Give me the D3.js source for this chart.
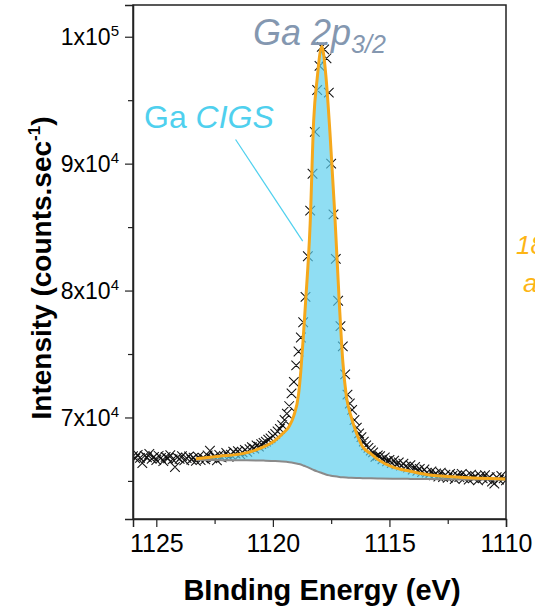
<!DOCTYPE html>
<html>
<head>
<meta charset="utf-8">
<script src="https://cdn.jsdelivr.net/npm/d3@7"></script>
<style>
  html, body { margin: 0; padding: 0; background: #fff; overflow: hidden; }
  svg { display: block; font-family: "Liberation Sans", Arial, sans-serif; }
</style>
</head>
<body>
<svg id="chart" width="535" height="607"></svg>
<script>
// ---------- data ----------
const energy = [
  1126.0,1125.9,1125.8,1125.7,1125.6,1125.5,1125.4,1125.3,1125.2,1125.1,
  1125.0,1124.9,1124.8,1124.7,1124.6,1124.5,1124.4,1124.3,1124.2,1124.1,
  1124.0,1123.9,1123.8,1123.7,1123.6,1123.5,1123.4,1123.3,1123.2,1123.1,
  1123.0,1122.9,1122.8,1122.7,1122.6,1122.5,1122.4,1122.3,1122.2,1122.1,
  1122.0,1121.9,1121.8,1121.7,1121.6,1121.5,1121.4,1121.3,1121.2,1121.1,
  1121.0,1120.9,1120.8,1120.7,1120.6,1120.5,1120.4,1120.3,1120.2,1120.1,
  1120.0,1119.9,1119.8,1119.7,1119.6,1119.5,1119.4,1119.3,1119.2,1119.1,
  1119.0,1118.9,1118.8,1118.7,1118.6,1118.5,1118.4,1118.3,1118.2,1118.1,
  1118.0,1117.9,1117.8,1117.7,1117.6,1117.5,1117.4,1117.3,1117.2,1117.1,
  1117.0,1116.9,1116.8,1116.7,1116.6,1116.5,1116.4,1116.3,1116.2,1116.1,
  1116.0,1115.9,1115.8,1115.7,1115.6,1115.5,1115.4,1115.3,1115.2,1115.1,
  1115.0,1114.9,1114.8,1114.7,1114.6,1114.5,1114.4,1114.3,1114.2,1114.1,
  1114.0,1113.9,1113.8,1113.7,1113.6,1113.5,1113.4,1113.3,1113.2,1113.1,
  1113.0,1112.9,1112.8,1112.7,1112.6,1112.5,1112.4,1112.3,1112.2,1112.1,
  1112.0,1111.9,1111.8,1111.7,1111.6,1111.5,1111.4,1111.3,1111.2,1111.1,
  1111.0,1110.9,1110.8,1110.7,1110.6,1110.5,1110.4,1110.3,1110.2,1110.1,
  1110.0
];
const intensity = [
  66950,66780,67050,66820,66400,66980,66860,67120,66740,66900,
  66650,66980,66820,66560,66900,66780,67020,66700,66100,66860,
  66740,66950,66620,66800,66930,66690,66840,66580,66900,66650,
  66820,66700,67000,67380,66780,66900,66620,67050,66850,66980,
  67200,66900,67060,67300,67150,67350,67100,67250,67450,67300,
  67500,67650,67550,67800,67700,67900,68000,68100,68250,68350,
  68550,68700,68900,69100,69400,69800,70300,70900,71900,72800,
  74100,75200,76300,77500,79500,82700,86300,89200,92500,95800,
  97700,99200,99000,98300,95600,90000,86000,82500,79200,77200,
  75600,73400,71800,71100,70600,69800,69200,68750,68450,68100,
  67800,67600,67400,67250,66900,67000,66950,66700,66850,66550,
  66650,66400,66600,66300,66450,66200,66350,66150,66050,66250,
  65900,66100,65800,65950,65700,65900,65650,65500,65750,65450,
  65600,65350,65650,65300,65500,65250,65550,65400,65150,65450,
  65300,65550,65200,65400,65100,65500,65250,65350,65050,65400,
  65200,65450,65150,65300,64950,64800,65300,65100,65400,65200,
  65050
];
const fitEnergy = [
  1123.3,1122.3,1121.3,1120.4,1119.9,1119.6,1119.3,1119.1,1118.9,1118.8,
  1118.7,1118.6,1118.4,1118.25,1118.1,1117.9,1117.73,1117.55,1117.35,1117.15,
  1117.0,1116.85,1116.65,1116.4,1116.15,1115.8,1115.5,1114.85,1114.1,1113.4,
  1112.0,1110.0
];
const fitEnvelope = [
  66740,66950,67150,67680,68200,68700,69300,70150,71800,73700,
  76200,79000,85300,93400,96700,99230,97000,92400,86200,79000,
  74400,71700,70100,68700,67700,67150,66700,66080,65760,65500,
  65290,65160
];
const fitBackground = [
  66650,66640,66625,66600,66570,66535,66480,66420,66340,66290,
  66220,66150,65990,65860,65750,65620,65510,65430,65360,65310,
  65285,65265,65245,65230,65220,65205,65195,65175,65160,65145,
  65120,65100
];
const xTicks = [1125, 1120, 1115, 1110];
const xMinorTicks = [1122.5, 1117.5, 1112.5];
const yTicks = [70000, 80000, 90000, 100000];
const yTickMantissa = ["7", "8", "9", "1"];
const yTickExponent = ["4", "4", "4", "5"];
const yMinorTicks = [65000, 75000, 85000, 95000];

const xDomain = [1126, 1110];
const yDomain = [62000, 102500];

// annotation anchors in data units
const leaderFrom = [1121.6, 91900];
const leaderTo = [1118.72, 83900];

// ---------- layout ----------
const W = 535, H = 607;
const margin = { left: 133, right: 29, top: 5, bottom: 88 };
const svg = d3.select("#chart");

const x = d3.scaleLinear().domain(xDomain).range([margin.left, W - margin.right]);
const y = d3.scaleLinear().domain(yDomain).range([H - margin.bottom, margin.top]);

const pts = energy.map((e, i) => ({ e, v: intensity[i] }));
const fit = fitEnergy.map((e, i) => ({ e, env: fitEnvelope[i], bg: fitBackground[i] }));

svg.append("defs").append("clipPath").attr("id", "plotclip")
  .append("rect")
  .attr("x", margin.left).attr("y", margin.top)
  .attr("width", W - margin.left - margin.right)
  .attr("height", H - margin.top - margin.bottom);

const plot = svg.append("g").attr("clip-path", "url(#plotclip)");

// data crosses
const s = 4.8;
plot.append("path")
  .attr("d", pts.map(p => {
    const cx = x(p.e), cy = y(p.v);
    return `M${cx - s},${cy - s}L${cx + s},${cy + s}M${cx - s},${cy + s}L${cx + s},${cy - s}`;
  }).join(""))
  .attr("fill", "none")
  .attr("stroke", "#111")
  .attr("stroke-width", 1.05);

// component fill between background and envelope
plot.append("path")
  .datum(fit)
  .attr("d", d3.area()
    .x(d => x(d.e)).y0(d => y(d.bg)).y1(d => y(d.env))
    .curve(d3.curveMonotoneX))
  .attr("fill", "#5ccfee")
  .attr("fill-opacity", 0.68);

// background line
plot.append("path")
  .datum(fit)
  .attr("d", d3.line().x(d => x(d.e)).y(d => y(d.bg)).curve(d3.curveMonotoneX))
  .attr("fill", "none")
  .attr("stroke", "#8a8a8a")
  .attr("stroke-width", 2);

// envelope line
plot.append("path")
  .datum(fit)
  .attr("d", d3.line().x(d => x(d.e)).y(d => y(d.env)).curve(d3.curveMonotoneX))
  .attr("fill", "none")
  .attr("stroke", "#f5a81c")
  .attr("stroke-width", 3);

// frame
svg.append("rect")
  .attr("x", margin.left).attr("y", margin.top)
  .attr("width", W - margin.left - margin.right)
  .attr("height", H - margin.top - margin.bottom)
  .attr("fill", "none").attr("stroke", "#222").attr("stroke-width", 1.5);

// x axis
const gx = svg.append("g").attr("transform", `translate(0,${H - margin.bottom})`)
  .call(d3.axisBottom(x).tickValues(xTicks).tickFormat(d3.format("d")).tickSize(8).tickPadding(7));
svg.append("g").attr("transform", `translate(0,${H - margin.bottom})`)
  .call(d3.axisBottom(x).tickValues(xMinorTicks).tickFormat("").tickSize(5))
  .call(g => g.select(".domain").remove());
gx.selectAll("text").attr("font-size", 25).attr("font-family", "Liberation Sans, Arial, sans-serif").attr("fill", "#000");

// y axis
const gy = svg.append("g").attr("transform", `translate(${margin.left},0)`)
  .call(d3.axisLeft(y).tickValues(yTicks).tickSize(8).tickPadding(6));
svg.append("g").attr("transform", `translate(${margin.left},0)`)
  .call(d3.axisLeft(y).tickValues(yMinorTicks).tickFormat("").tickSize(5))
  .call(g => g.select(".domain").remove());
gy.selectAll("text").each(function (d, i) {
  const t = d3.select(this);
  t.text(null).attr("font-size", 23).attr("fill", "#000")
    .attr("font-family", "Liberation Sans, Arial, sans-serif").attr("dy", "0.35em");
  t.append("tspan").text(yTickMantissa[i] + "x10");
  t.append("tspan").attr("dy", -9).attr("font-size", 15).text(yTickExponent[i]);
});
svg.selectAll(".domain").attr("stroke", "#222").attr("stroke-width", 1.5);
svg.selectAll(".tick line").attr("stroke", "#222").attr("stroke-width", 1.2);

// axis titles
svg.append("text")
  .attr("x", 322).attr("y", 600)
  .attr("text-anchor", "middle").attr("font-weight", "bold").attr("font-size", 29)
  .text("BInding Energy (eV)");

const yt = svg.append("text")
  .attr("transform", `translate(51,268) rotate(-90)`)
  .attr("text-anchor", "middle").attr("font-weight", "bold").attr("font-size", 28);
yt.append("tspan").text("Intensity (counts.sec");
yt.append("tspan").attr("dy", -11).attr("font-size", 17).text("-1");
yt.append("tspan").attr("dy", 11).text(")");

// peak title
const pt = svg.append("text").attr("x", 253).attr("y", 45)
  .attr("font-size", 36).attr("font-style", "italic").attr("fill", "#8497b0");
pt.append("tspan").text("Ga 2p");
pt.append("tspan").attr("dy", 8).attr("font-size", 25).text("3/2");

// component label
const cl = svg.append("text").attr("x", 144).attr("y", 128)
  .attr("font-size", 32).attr("fill", "#4fd0ee");
cl.append("tspan").text("Ga ");
cl.append("tspan").attr("font-style", "italic").text("CIGS");

svg.append("line")
  .attr("x1", x(leaderFrom[0])).attr("y1", y(leaderFrom[1]))
  .attr("x2", x(leaderTo[0])).attr("y2", y(leaderTo[1]))
  .attr("stroke", "#4fd0ee").attr("stroke-width", 1.2);

// side label (cut by the page edge, as in the reference)
const side = svg.append("text").attr("font-size", 26).attr("font-style", "italic").attr("fill", "#fdb515");
side.append("tspan").attr("x", 516).attr("y", 254).text("18 min");
side.append("tspan").attr("x", 523).attr("y", 292).text("after");
</script>
</body>
</html>
